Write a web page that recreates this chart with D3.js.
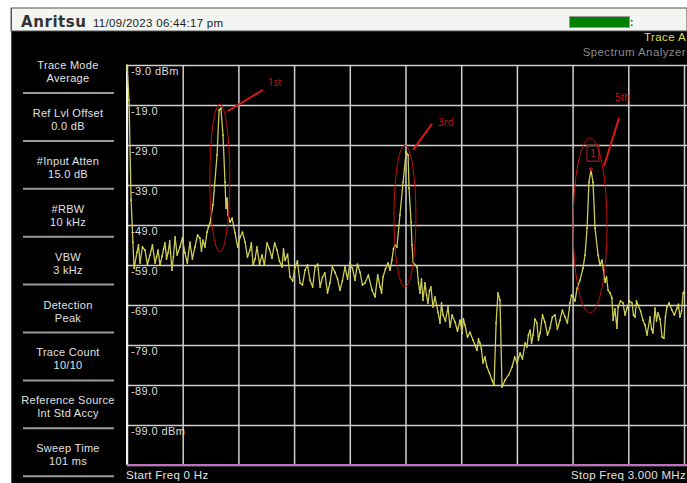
<!DOCTYPE html>
<html>
<head>
<meta charset="utf-8">
<script src="https://cdn.jsdelivr.net/npm/d3@7"></script>
<style>
  html, body { margin: 0; padding: 0; background: #fff; }
  svg { display: block; font-family: 'Liberation Sans', Arial, sans-serif; }
</style>
</head>
<body>
<svg id="chart" width="687" height="483"></svg>
<script>
// trace A: [frequency MHz, level dBm]
const traceA = [
  [0.000, -9.0], [0.011, -17.8], [0.022, -42.8], [0.032, -53.3], [0.038, -59.8],
  [0.054, -55.8], [0.062, -54.0], [0.070, -58.5], [0.083, -54.5], [0.097, -55.3],
  [0.110, -58.8], [0.124, -56.5], [0.137, -54.0], [0.151, -58.5], [0.159, -57.0],
  [0.167, -55.3], [0.178, -59.0], [0.189, -56.8], [0.197, -55.0], [0.205, -53.5],
  [0.213, -57.5], [0.221, -56.0], [0.230, -53.0], [0.242, -60.3], [0.250, -57.0],
  [0.259, -52.0], [0.270, -56.5], [0.285, -54.5], [0.298, -52.3], [0.312, -56.0],
  [0.325, -58.5], [0.339, -53.3], [0.352, -57.5], [0.366, -54.5], [0.380, -51.5],
  [0.393, -52.3], [0.401, -55.5], [0.409, -52.8], [0.420, -54.5], [0.431, -50.8],
  [0.439, -49.5], [0.447, -48.5], [0.463, -44.0], [0.485, -31.5], [0.496, -20.3],
  [0.506, -19.8], [0.517, -26.5], [0.528, -38.3], [0.533, -44.8], [0.539, -42.3],
  [0.544, -46.5], [0.555, -48.3], [0.566, -47.3], [0.582, -51.0], [0.596, -54.5],
  [0.609, -52.0], [0.622, -50.8], [0.636, -53.3], [0.649, -57.0], [0.662, -55.3],
  [0.670, -53.5], [0.679, -59.0], [0.690, -57.5], [0.700, -54.5], [0.714, -58.8],
  [0.727, -56.5], [0.740, -59.0], [0.754, -53.5], [0.767, -55.0], [0.781, -57.3],
  [0.795, -53.5], [0.808, -55.3], [0.821, -58.0], [0.835, -59.5], [0.843, -55.0],
  [0.851, -57.8], [0.865, -56.3], [0.878, -62.0], [0.892, -63.0], [0.905, -59.5],
  [0.918, -58.0], [0.932, -63.5], [0.945, -64.0], [0.959, -60.3], [0.972, -59.0],
  [0.986, -62.8], [1.000, -64.5], [1.013, -59.5], [1.027, -58.8], [1.040, -64.5],
  [1.053, -62.0], [1.066, -61.0], [1.080, -66.0], [1.093, -63.5], [1.106, -59.5],
  [1.120, -60.8], [1.134, -62.5], [1.147, -65.3], [1.160, -63.0], [1.174, -59.5],
  [1.188, -62.5], [1.201, -58.5], [1.214, -59.8], [1.228, -62.8], [1.241, -58.8],
  [1.255, -60.8], [1.268, -64.0], [1.282, -63.5], [1.300, -61.5], [1.320, -65.3],
  [1.336, -67.0], [1.350, -61.5], [1.363, -64.5], [1.371, -66.0], [1.379, -62.0],
  [1.392, -60.0], [1.406, -58.5], [1.417, -60.3], [1.427, -57.8], [1.435, -55.0],
  [1.443, -54.0], [1.454, -54.5], [1.470, -46.5], [1.487, -38.3], [1.503, -30.8],
  [1.514, -31.5], [1.519, -39.8], [1.530, -48.3], [1.535, -54.0], [1.541, -58.3],
  [1.562, -59.5], [1.570, -63.5], [1.578, -66.0], [1.586, -62.5], [1.594, -67.8],
  [1.605, -63.5], [1.613, -66.5], [1.621, -68.5], [1.629, -65.5], [1.637, -64.5],
  [1.648, -69.5], [1.659, -67.0], [1.675, -70.8], [1.686, -73.5], [1.694, -68.5],
  [1.702, -71.5], [1.715, -73.0], [1.729, -69.5], [1.740, -74.5], [1.751, -71.5],
  [1.767, -73.3], [1.780, -75.5], [1.794, -72.8], [1.804, -76.0], [1.812, -72.5],
  [1.820, -74.0], [1.834, -77.0], [1.847, -75.8], [1.864, -77.8], [1.874, -79.0],
  [1.885, -80.3], [1.893, -77.5], [1.901, -78.5], [1.909, -80.0], [1.917, -83.5],
  [1.928, -82.0], [1.939, -84.5], [1.952, -86.0], [1.966, -87.8], [1.977, -89.0],
  [1.988, -73.5], [1.998, -66.0], [2.009, -67.8], [2.020, -89.5], [2.036, -87.8],
  [2.055, -86.5], [2.074, -84.5], [2.088, -82.0], [2.101, -83.5], [2.117, -81.0],
  [2.130, -82.5], [2.144, -78.5], [2.154, -79.5], [2.162, -76.5], [2.171, -75.3],
  [2.179, -78.5], [2.187, -76.5], [2.197, -72.5], [2.208, -73.5], [2.216, -77.8],
  [2.225, -76.0], [2.238, -71.5], [2.251, -73.3], [2.265, -76.5], [2.278, -74.8],
  [2.291, -72.0], [2.305, -71.5], [2.318, -75.0], [2.332, -72.8], [2.345, -70.3],
  [2.359, -72.0], [2.372, -73.5], [2.386, -68.5], [2.394, -66.5], [2.402, -67.0],
  [2.413, -68.0], [2.424, -64.8], [2.440, -62.8], [2.456, -59.8], [2.467, -56.5],
  [2.478, -49.8], [2.488, -38.3], [2.499, -35.3], [2.510, -38.3], [2.521, -49.8],
  [2.537, -56.5], [2.548, -59.0], [2.558, -57.8], [2.575, -63.3], [2.583, -62.0],
  [2.591, -65.3], [2.602, -66.0], [2.612, -67.3], [2.618, -72.8], [2.628, -70.0],
  [2.639, -74.8], [2.645, -69.5], [2.658, -68.0], [2.672, -68.5], [2.682, -71.5],
  [2.693, -69.8], [2.706, -68.0], [2.720, -68.5], [2.728, -71.5], [2.736, -72.0],
  [2.744, -68.0], [2.752, -69.0], [2.766, -70.5], [2.779, -72.8], [2.790, -74.0],
  [2.801, -76.5], [2.817, -72.0], [2.825, -75.0], [2.833, -76.0], [2.844, -69.8],
  [2.852, -73.0], [2.860, -71.0], [2.871, -72.5], [2.882, -77.0], [2.892, -77.3],
  [2.900, -72.0], [2.908, -69.5], [2.920, -68.5], [2.935, -70.3], [2.948, -71.5],
  [2.962, -69.8], [2.970, -68.8], [2.978, -72.0], [2.987, -70.5], [2.995, -66.0],
  [3.000, -65.8]
]

const yLabelValues = [-9, -19, -29, -39, -49, -59, -69, -79, -89, -99]
const yGridValues = [-9, -19, -29, -39, -49, -59, -69, -79, -89, -99, -109]
const xGridValues = [0, 0.3, 0.6, 0.9, 1.2, 1.5, 1.8, 2.1, 2.4, 2.7, 3.0]

const sideTitles = ['Trace Mode', 'Ref Lvl Offset', '#Input Atten', '#RBW', 'VBW',
  'Detection', 'Trace Count', 'Reference Source', 'Sweep Time']
const sideValues = ['Average', '0.0 dB', '15.0 dB', '10 kHz', '3 kHz',
  'Peak', '10/10', 'Int Std Accy', '101 ms']

// hand drawn harmonic marks: freq, dBm top / bottom of the ellipse
const harmonicLabels = ['1st', '3rd', '5th']
const harmonicFreq = [0.50, 1.497, 2.494]
const harmonicTop = [-18.75, -29.0, -27.25]
const harmonicBottom = [-55.75, -64.5, -71.0]

const markerFreq = 2.499
const markerLevel = -35.3

const width = 687
const height = 483
const margin = { top: 65, left: 127 }
const plotW = 557
const plotH = 400

const svg = d3.select('#chart')

// frame
svg.append('rect').attr('x', 12).attr('y', 9).attr('width', width - 12).attr('height', height - 9)
  .attr('fill', '#000')
svg.append('rect').attr('x', 11).attr('y', 8).attr('width', width - 11).attr('height', 23)
  .attr('fill', '#f2f5f1').attr('stroke', '#555').attr('stroke-width', 1)
svg.append('line').attr('x1', 11.5).attr('x2', 11.5).attr('y1', 8).attr('y2', height)
  .attr('stroke', '#555')

// header
svg.append('text').attr('x', 21).attr('y', 27).text('Anritsu')
  .attr('font-family', 'DejaVu Sans, sans-serif').attr('font-weight', 'bold')
  .attr('font-size', 15).attr('fill', '#333').attr('textLength', 65)
svg.append('text').attr('x', 93).attr('y', 27).text('11/09/2023 06:44:17 pm')
  .attr('font-size', 11.5).attr('fill', '#222').attr('letter-spacing', 0.3)
svg.append('rect').attr('x', 569.5).attr('y', 16.5).attr('width', 60).attr('height', 11)
  .attr('fill', '#008000').attr('stroke', '#999')
svg.append('text').attr('x', 630).attr('y', 26).text(':').attr('font-size', 10)
  .attr('font-weight', 'bold').attr('fill', '#333')

svg.append('text').attr('x', 686).attr('y', 41).attr('text-anchor', 'end')
  .text('Trace A').attr('font-size', 11.5).attr('fill', '#e2df4a').attr('letter-spacing', 0.4)
svg.append('text').attr('x', 686).attr('y', 56).attr('text-anchor', 'end')
  .text('Spectrum Analyzer').attr('font-size', 11.5).attr('fill', '#8a8a8a').attr('letter-spacing', 0.4)

// side panel
const side = svg.append('g').attr('id', 'side')
sideTitles.forEach((t, i) => {
  const y0 = 65 + i * 47.9
  side.append('text').attr('x', 68).attr('y', y0 + 4).attr('text-anchor', 'middle')
    .text(t).attr('font-size', 11).attr('fill', '#e0e0e0').attr('letter-spacing', 0.3)
  side.append('text').attr('x', 68).attr('y', y0 + 17).attr('text-anchor', 'middle')
    .text(sideValues[i]).attr('font-size', 11).attr('fill', '#e0e0e0').attr('letter-spacing', 0.3)
  side.append('line').attr('x1', 23).attr('x2', 114).attr('y1', y0 + 28).attr('y2', y0 + 28)
    .attr('stroke', '#9a9a9a').attr('stroke-width', 2)
})

// scales
const x = d3.scaleLinear().domain([0, 3]).range([0, plotW])
const y = d3.scaleLinear().domain([-109, -9]).range([plotH, 0])

const viz = svg.append('g').attr('id', 'viz')
  .attr('transform', `translate(${margin.left},${margin.top})`)

// grid
viz.append('g').attr('class', 'xgrid')
  .attr('transform', `translate(0,${plotH})`)
  .call(d3.axisBottom(x).tickValues(xGridValues).tickSize(-plotH).tickFormat(''))
  .call(g => g.select('.domain').remove())
  .call(g => g.selectAll('line').attr('stroke', '#cfcfcf').attr('stroke-width', 1.5))

viz.append('g').attr('class', 'ygrid')
  .call(d3.axisLeft(y).tickValues(yGridValues).tickSize(-plotW - 3).tickFormat(''))
  .call(g => g.select('.domain').remove())
  .call(g => g.selectAll('line').attr('stroke', '#cfcfcf').attr('stroke-width', 1.5))

// left border
viz.append('line').attr('x1', 0).attr('x2', 0).attr('y1', 0).attr('y2', plotH)
  .attr('stroke', '#f2f2f2').attr('stroke-width', 2)
// bottom magenta line
viz.append('line').attr('x1', 0).attr('x2', plotW + 3).attr('y1', plotH).attr('y2', plotH)
  .attr('stroke', '#c46ec4').attr('stroke-width', 2)

// y labels
viz.append('g').attr('class', 'ylabels')
  .call(d3.axisRight(y).tickValues(yLabelValues).tickSize(0).tickPadding(4)
    .tickFormat(d => {
      const s = '-' + Math.abs(d).toFixed(1)
      return (d === -9 || d === -99) ? s + ' dBm' : s
    }))
  .call(g => g.select('.domain').remove())
  .call(g => g.selectAll('text').attr('font-size', 11).attr('fill', '#dcdcdc')
    .attr('font-family', 'Liberation Sans, Arial, sans-serif')
    .attr('letter-spacing', 0.4).attr('dy', '0.75em').attr('y', 1))

// trace
const line = d3.line().x(d => x(d[0])).y(d => y(d[1]))
viz.append('path').datum(traceA)
  .attr('d', line).attr('fill', 'none')
  .attr('stroke', '#cbcb58').attr('stroke-width', 1.3).attr('stroke-linejoin', 'round')
viz.append('g').selectAll('rect').data(traceA).join('rect')
  .attr('x', d => x(d[0]) - 0.7).attr('y', d => y(d[1]) - 0.7)
  .attr('width', 1.4).attr('height', 1.4).attr('fill', '#eeee3c')

// marker 1
viz.append('circle').attr('cx', x(markerFreq)).attr('cy', y(markerLevel) - 1).attr('r', 2)
  .attr('fill', '#a01818')
viz.append('rect').attr('x', x(markerFreq) - 4).attr('y', y(markerLevel) - 25)
  .attr('width', 12).attr('height', 16).attr('fill', 'none').attr('stroke', '#9a1e1e').attr('stroke-width', 1.2)
viz.append('text').attr('x', x(markerFreq) + 2).attr('y', y(markerLevel) - 13)
  .attr('text-anchor', 'middle').text('1').attr('font-size', 10).attr('fill', '#b02020')

// harmonic annotations
const arrowOffsets = [[8, 7, 43, -14], [8, 5, 27, -21], [14, 28, 29, -20]]
const labelOffsets = [[48, -18], [33, -19], [25, -37]]
const rx = [10, 11, 17]
harmonicLabels.forEach((lab, i) => {
  const cx = x(harmonicFreq[i])
  const top = y(harmonicTop[i])
  const bot = y(harmonicBottom[i])
  viz.append('ellipse').attr('cx', cx).attr('cy', (top + bot) / 2)
    .attr('rx', rx[i]).attr('ry', (bot - top) / 2)
    .attr('fill', 'none').attr('stroke', '#c40f0f').attr('stroke-width', 1)
  const a = arrowOffsets[i]
  viz.append('line').attr('x1', cx + a[0]).attr('y1', top + a[1])
    .attr('x2', cx + a[2]).attr('y2', top + a[3])
    .attr('stroke', '#e01818').attr('stroke-width', 2)
  const l = labelOffsets[i]
  viz.append('text').attr('x', cx + l[0]).attr('y', top + l[1])
    .text(lab).attr('font-size', 10).attr('fill', '#d01515')
    .attr('font-family', 'Open Sans, sans-serif')
})

// footer
svg.append('text').attr('x', 126).attr('y', 479).text('Start Freq 0 Hz')
  .attr('font-size', 11.5).attr('fill', '#e0e0e0').attr('letter-spacing', 0.3)
svg.append('text').attr('x', 686).attr('y', 479).attr('text-anchor', 'end')
  .text('Stop Freq 3.000 MHz').attr('font-size', 11.5).attr('fill', '#e0e0e0').attr('letter-spacing', 0.3)
</script>
</body>
</html>
